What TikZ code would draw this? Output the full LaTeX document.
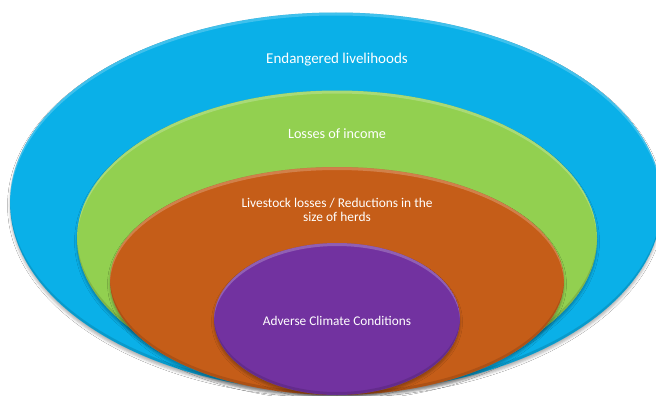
\documentclass[tikz,border=0pt]{standalone}
\usepackage{fontspec}
\setmainfont{Carlito}
\usetikzlibrary{shadows.blur}

\definecolor{ringblue}{HTML}{0AB0E8}
\definecolor{ringgreen}{HTML}{92D050}
\definecolor{ringorange}{HTML}{C55D18}
\definecolor{ringpurple}{HTML}{7232A0}

% one bevelled oval: centre x, centre y, x radius, y radius, colour
\newcommand\ovalring[5]{%
  \fill[#5, blur shadow={shadow xshift=0pt, shadow yshift=-3pt,
        shadow blur radius=2.5pt, shadow opacity=30}]
    (#1,#2) ellipse [x radius=#3, y radius=#4];
  \begin{scope}
    \clip (#1,#2) ellipse [x radius=#3, y radius=#4];
    % light rim along the top
    \fill[white, opacity=.22, even odd rule]
      (#1,#2) ellipse [x radius=#3, y radius=#4]
      (#1,#2+3) ellipse [x radius=#3, y radius=#4];
    % darker rim along the bottom
    \fill[black, opacity=.12, even odd rule]
      (#1,#2) ellipse [x radius=#3, y radius=#4]
      (#1,#2-3) ellipse [x radius=#3, y radius=#4];
  \end{scope}}

\tikzset{
  lab/.style={text=white, inner sep=0pt, align=center}
}

\begin{document}
\begin{tikzpicture}[x=1pt, y=-1pt]
  \useasboundingbox (0,0) rectangle (656,396);
  \fill[white] (0,0) rectangle (656,396);

  \ovalring{336}{202.5}{326}{190}{ringblue}
  \ovalring{337}{238.5}{260}{148}{ringgreen}
  \ovalring{337}{281}{227}{114}{ringorange}
  \ovalring{337}{319}{123}{76}{ringpurple}

  \node[lab, font=\fontsize{15}{17}\selectfont] (livelihoods) at (337,60)
    {Endangered livelihoods};
  \node[lab, font=\fontsize{14.2}{16}\selectfont] (income) at (337,134)
    {Losses of income};
  \node[lab, font=\fontsize{13.4}{13.5}\selectfont] (livestock) at (337,210)
    {Livestock losses / Reductions in the\\size of herds};
  \node[lab, font=\fontsize{13.3}{15}\selectfont] (climate) at (337,321)
    {Adverse Climate Conditions};
\end{tikzpicture}
\end{document}
